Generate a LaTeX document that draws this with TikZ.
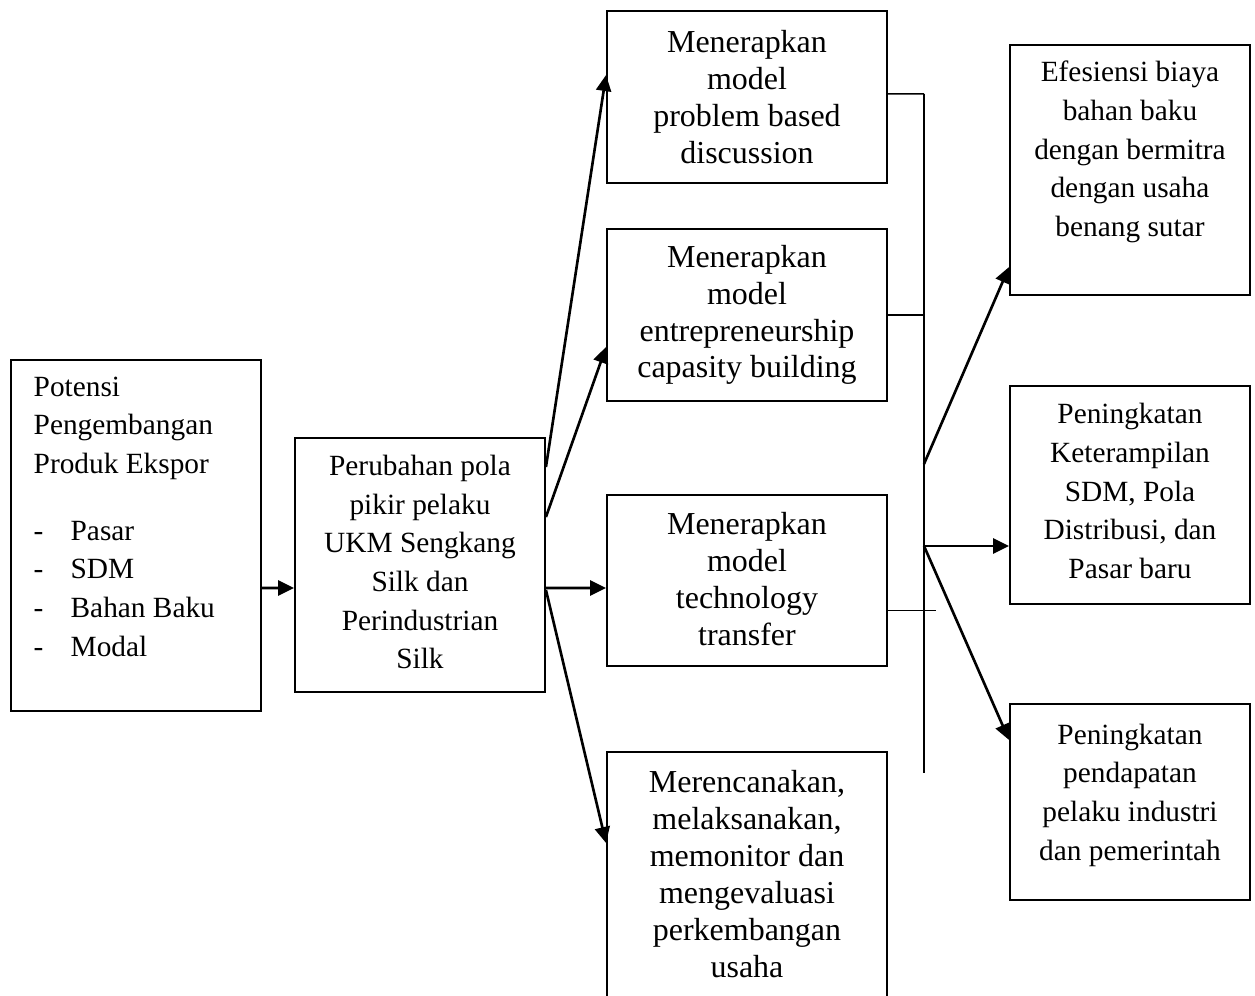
\documentclass[tikz,border=0pt]{standalone}
\usepackage{fontspec}
\setmainfont{Liberation Serif}
\usetikzlibrary{arrows.meta}

\begin{document}
\begin{tikzpicture}[x=0.02cm,y=-0.02cm,thick,
	box/.style={draw,line width=1.1pt,inner sep=0pt},
	colT/.style={align=center,inner sep=0pt,font=\fontsize{18.2pt}{21pt}\selectfont},
	sideT/.style={align=center,inner sep=0pt,font=\fontsize{16.7pt}{22pt}\selectfont},
	arr/.style={-{Triangle[length=0.32cm,width=0.3cm]},line width=1.5pt},
	link/.style={line width=0.85pt}]
	\useasboundingbox (0,0) rectangle (1255,996);
	% boxes
	\node[box,minimum width=5cm,minimum height=7.02cm] (pot) at (136,535.5) {};
	\node[box,minimum width=5cm,minimum height=5.08cm] (ubah) at (420,565) {};
	\node[box,minimum width=5.6cm,minimum height=3.44cm] (pbd) at (747,97) {};
	\node[box,minimum width=5.6cm,minimum height=3.44cm] (ecb) at (747,315) {};
	\node[box,minimum width=5.6cm,minimum height=3.42cm] (tt) at (747,580.5) {};
	\node[box,minimum width=5.6cm,minimum height=5.16cm] (rencana) at (747,881) {};
	\node[box,minimum width=4.8cm,minimum height=5.0cm] (efi) at (1130,170) {};
	\node[box,minimum width=4.8cm,minimum height=4.36cm] (skill) at (1130,495) {};
	\node[box,minimum width=4.8cm,minimum height=3.92cm] (income) at (1130,802) {};
	% texts
	\node[sideT,align=left,anchor=north west] (potT) at (33,376) {Potensi\\Pengembangan\\Produk Ekspor\\[0.56cm]
		\makebox[0.74cm][l]{-}Pasar\\\makebox[0.74cm][l]{-}SDM\\\makebox[0.74cm][l]{-}Bahan Baku\\\makebox[0.74cm][l]{-}Modal};
	\node[sideT] (ubahT) at (420,562) {Perubahan pola\\pikir pelaku\\UKM Sengkang\\Silk dan\\Perindustrian\\Silk};
	\node[colT] (pbdT) at (747,97) {Menerapkan\\model\\problem based\\discussion};
	\node[colT] (ecbT) at (747,315) {Menerapkan\\model\\entrepreneurship\\capasity building};
	\node[colT] (ttT) at (747,579) {Menerapkan\\model\\technology\\transfer};
	\node[colT] (rencanaT) at (747,874) {Merencanakan,\\melaksanakan,\\memonitor dan\\mengevaluasi\\perkembangan\\usaha};
	\node[sideT] (efiT) at (1130,152) {Efesiensi biaya\\bahan baku\\dengan bermitra\\dengan usaha\\benang sutar};
	\node[sideT] (skillT) at (1130,491) {Peningkatan\\Keterampilan\\SDM, Pola\\Distribusi, dan\\Pasar baru};
	\node[sideT] (incomeT) at (1130,795) {Peningkatan\\pendapatan\\pelaku industri\\dan pemerintah};
	% bar
	\coordinate (bartop) at (924,94);
	\coordinate (barbot) at (924,773);
	\coordinate (hubA) at (924,464);
	\coordinate (hubB) at (924,546);
	\draw[link] (bartop) -- (barbot);
	\draw[link] ([yshift=0.06cm]pbd.east) -- (bartop);
	\draw[link] (ecb.east) -- (ecb.east -| bartop);
	\draw[link] ([yshift=-0.6cm]tt.east) -- ++(48,0);
	% arrows
	\draw[arr] ([yshift=-1.05cm]pot.east) -- ([yshift=-0.46cm]ubah.west);
	\draw[arr] ([yshift=1.96cm]ubah.east) -- ([yshift=0.44cm]pbd.west);
	\draw[arr] ([yshift=0.96cm]ubah.east) -- ([yshift=-0.64cm]ecb.west);
	\draw[arr] ([yshift=-0.46cm]ubah.east) -- ([yshift=-0.15cm]tt.west);
	\draw[arr] ([yshift=-0.5cm]ubah.east) -- ([yshift=0.76cm]rencana.west);
	\draw[arr] (hubA) -- ([yshift=-1.94cm]efi.west);
	\draw[arr] (hubB) -- (hubB -| skill.west);
	\draw[arr] (hubB) -- ([yshift=1.24cm]income.west);
\end{tikzpicture}
\end{document}
